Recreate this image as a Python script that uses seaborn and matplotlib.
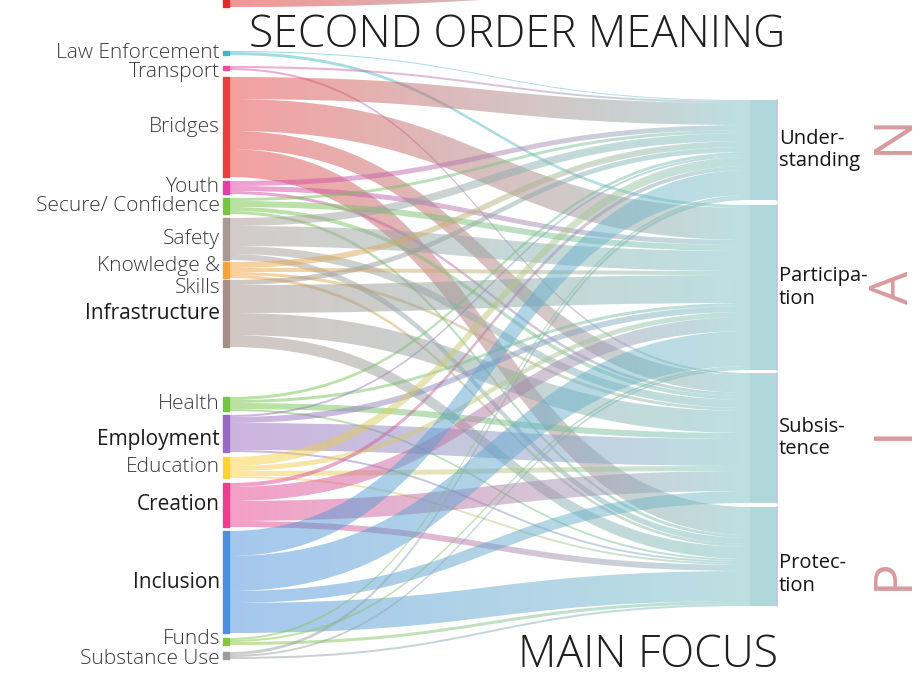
import numpy as np
import matplotlib
matplotlib.use("Agg")
import matplotlib.pyplot as plt
from matplotlib.path import Path
from matplotlib.patches import PathPatch, Rectangle
import seaborn as sns

# left nodes (second order meaning)
sources = ["Law Enforcement", "Transport", "Bridges", "Youth", "Secure/ Confidence",
           "Safety", "Knowledge &\nSkills", "Infrastructure", "Health", "Employment",
           "Education", "Creation", "Inclusion", "Funds", "Substance Use"]
source_colors = ["#3fb8c6", "#ea4f9c", "#e8403f", "#e23ea3", "#76c442",
                 "#a79a95", "#f6a23c", "#a58f88", "#76c442", "#9a68bf",
                 "#ffd13d", "#ec3d8e", "#4a90dc", "#86c540", "#9c9c9c"]
bold_sources = ["Infrastructure", "Employment", "Creation", "Inclusion"]

# right nodes (main focus)
targets = ["Under-\nstanding", "Participa-\ntion", "Subsis-\ntence", "Protec-\ntion"]
pain_letters = ["N", "A", "I", "P"]

# flow values from each source into each target
flows_understanding = [1, 2, 22, 5, 3, 8, 6, 5, 3, 2, 9, 4, 25, 2, 3]
flows_participation = [3, 0, 32, 5, 6, 20, 4, 28, 3, 6, 5, 14, 35, 2, 2]
flows_subsistence = [0, 2, 18, 3, 4, 8, 3, 22, 6, 27, 5, 20, 12, 0, 0]
flows_protection = [0, 0, 28, 0, 3, 6, 3, 12, 2, 2, 2, 6, 30, 3, 2]

# cropped flow of the chart above (only its tail is visible)
prev_flow_value = 27

# layout (pixels)
left_top = 51
left_gaps = [11, 7, 4, 4, 4, 2, 2, 50, 4, 5, 5, 4, 5, 7]
right_top = 100
right_gaps = [5, 3, 4]
x_left, x_right = 229, 750
label_nudge_left = {"Transport": 4, "Knowledge &\nSkills": 7, "Employment": 6,
                    "Funds": -3, "Substance Use": 3}
label_nudge_right = {"Protec-\ntion": 18}
pain_nudge = [-16, 0, -5, 0]
target_color = "#7cc0c3"

sns.set_style("white")
plt.rcParams["font.family"] = ["Open Sans", "DejaVu Sans"]

flows = np.array([flows_understanding, flows_participation,
                  flows_subsistence, flows_protection]).T  # sources x targets
src_tot = flows.sum(axis=1)
tgt_tot = flows.sum(axis=0)

src_y = [left_top]
for g, v in zip(left_gaps, src_tot[:-1]):
    src_y.append(src_y[-1] + v + g)
tgt_y = [right_top]
for g, v in zip(right_gaps, tgt_tot[:-1]):
    tgt_y.append(tgt_y[-1] + v + g)

fig = plt.figure(figsize=(9.22, 7), dpi=100)
ax = fig.add_axes([0, 0, 1, 1])
ax.set_axis_off()


def band(ax, x0, x1, s0, s1, t0, t1, color, alpha=0.5):
    xm = (x0 + x1) / 2
    verts = [(x0, s0), (xm, s0), (xm, t0), (x1, t0),
             (x1, t1), (xm, t1), (xm, s1), (x0, s1), (x0, s0)]
    codes = [Path.MOVETO, Path.CURVE4, Path.CURVE4, Path.CURVE4,
             Path.LINETO, Path.CURVE4, Path.CURVE4, Path.CURVE4, Path.CLOSEPOLY]
    patch = PathPatch(Path(verts, codes), facecolor="none", edgecolor="none",
                      transform=ax.transData)
    # colour fades from the source colour to the target teal
    pal = sns.blend_palette([color, target_color], n_colors=64)
    img = np.ones((1, 64, 4))
    img[0, :, :3] = np.array(pal)
    img[0, :, 3] = alpha
    im = ax.imshow(img, extent=(x0, x1, max(s1, t1), min(s0, t0)),
                   aspect="auto", interpolation="bilinear", zorder=2)
    im.set_clip_path(patch)


# outgoing offsets at sources, incoming offsets at targets
src_off = list(src_y)
tgt_off = list(tgt_y)
for i in range(len(sources)):
    for j in range(len(targets)):
        v = flows[i, j]
        if v <= 0:
            continue
        s0 = src_off[i]
        src_off[i] += v
        t0 = tgt_off[j]
        tgt_off[j] += v
        band(ax, x_left, x_right, s0, s0 + v, t0, t0 + v, source_colors[i], 0.5)

# tail of the flow from the chart above
band(ax, x_left, x_right, 7 - prev_flow_value, 7, -8 - prev_flow_value, -8, "#e8403f", 0.55)
ax.add_patch(Rectangle((x_left - 6, 7 - prev_flow_value), 6, prev_flow_value,
                       color="#e22a2a", zorder=3))

# source node bars and labels
for i, name in enumerate(sources):
    ax.add_patch(Rectangle((x_left - 6, src_y[i]), 6, src_tot[i],
                           color=source_colors[i], zorder=3))
    bold = name in bold_sources
    ax.text(x_left - 9, src_y[i] + src_tot[i] / 2 + label_nudge_left.get(name, 0), name,
            ha="right", va="center", fontsize=15, linespacing=1.1,
            color="#1c1c1c" if bold else "#3a3a3a",
            fontweight="medium" if bold else "light", zorder=4)

# target node bars and labels
for j, name in enumerate(targets):
    ax.add_patch(Rectangle((x_right, tgt_y[j]), 27, tgt_tot[j],
                           color="#a8d4d6", alpha=0.9, zorder=3, lw=0))
    ax.plot([x_right + 27, x_right + 27], [tgt_y[j], tgt_y[j] + tgt_tot[j]],
            color="#bcc4ea", lw=1.2, zorder=3)
    yc = tgt_y[j] + tgt_tot[j] / 2 + label_nudge_right.get(name, 0)
    ax.text(x_right + 29, yc, name, ha="left", va="center", fontsize=14.5,
            linespacing=1.15, color="#151515", fontweight="medium", zorder=4)

# PAIN letters
for j, letter in enumerate(pain_letters):
    yc = tgt_y[j] + tgt_tot[j] / 2 + label_nudge_right.get(targets[j], 0) + pain_nudge[j]
    ax.text(894, yc, letter, rotation=90, ha="center", va="center",
            fontsize=38, color="#d99a9c", fontweight="normal", zorder=4)

ax.text(517, 36, "SECOND ORDER MEANING", ha="center", va="center",
        fontsize=32, color="#1f1f1f", fontweight="light", zorder=5)
ax.text(648, 656, "MAIN FOCUS", ha="center", va="center",
        fontsize=32, color="#1f1f1f", fontweight="light", zorder=5)

ax.set_xlim(0, 922)
ax.set_ylim(700, 0)
fig.savefig("out.png", dpi=100, facecolor="white")
